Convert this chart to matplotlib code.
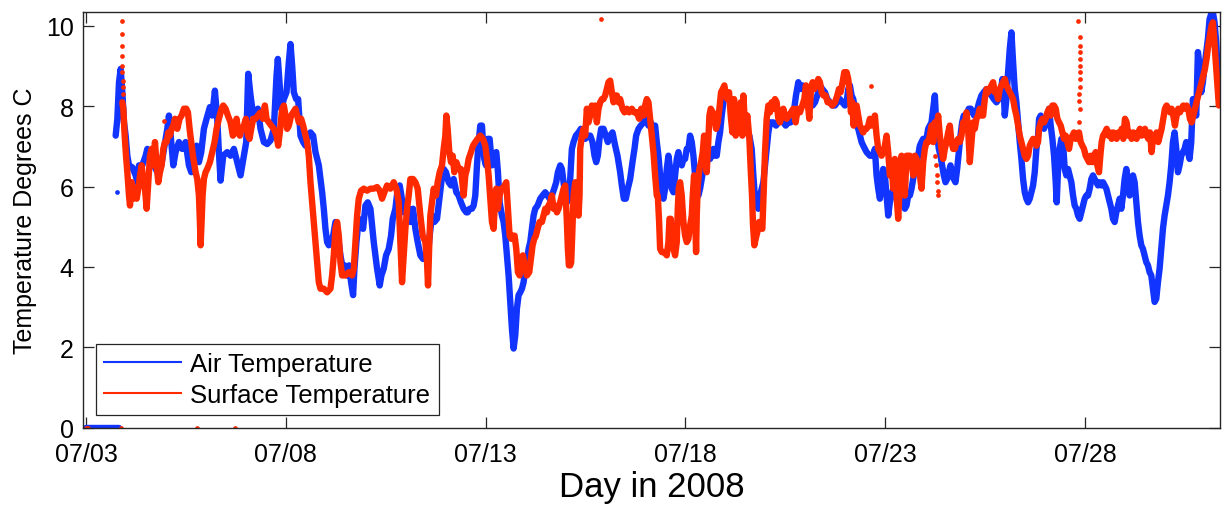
import matplotlib
matplotlib.use("Agg")
import matplotlib.pyplot as plt
import matplotlib.dates as mdates
from matplotlib.lines import Line2D
import pandas as pd

# ---------------- data (hours after 2008-07-03 00:00, temperature degC) -------------
air_readings = [
    (17.8, 7.27), (18.8, 7.69), (19.8, 8.60), (20.8, 8.93), (21.8, 8.35), (22.8, 7.60), (23.8, 7.27),
    (24.8, 6.77), (25.8, 6.53), (27.8, 6.48), (29.8, 6.28), (30.8, 6.11), (31.8, 6.53), (33.8, 6.53),
    (35.8, 6.77), (36.8, 6.94), (38.8, 6.86), (40.8, 6.53), (42.8, 6.36), (45.2, 6.53), (46.8, 6.94),
    (48.8, 7.44), (49.8, 7.77), (51.2, 7.11), (52.4, 6.53), (53.8, 6.86), (55.8, 7.11), (57.8, 6.94),
    (59.8, 7.11), (61.8, 6.53), (63.2, 6.36), (64.8, 6.86), (66.4, 7.02), (67.8, 6.61), (69.2, 6.86),
    (70.8, 7.44), (72.4, 7.69), (74.4, 7.98), (75.8, 7.77), (77.4, 8.39), (78.8, 7.69), (79.8, 6.86),
    (80.8, 6.15), (82.4, 6.77), (84.8, 6.86), (86.8, 6.77), (88.8, 6.94), (90.8, 6.61), (92.8, 6.28),
    (94.8, 6.77), (96.2, 7.11), (97.4, 8.81), (98.8, 8.27), (100.4, 7.77), (101.8, 7.69), (103.2, 7.94),
    (104.8, 7.44), (106.8, 7.11), (108.8, 7.06), (110.8, 7.15), (112.8, 7.44),
    (114.4, 8.76), (115.2, 9.18), (116.2, 8.60), (117.2, 7.94), (118.8, 8.18), (120.4, 8.35), (121.8, 9.10),
    (122.8, 9.55), (123.8, 9.01), (124.8, 8.35), (126.2, 8.18), (127.4, 8.18), (128.8, 7.27), (130.4, 7.11),
    (131.8, 7.02), (133.2, 7.27), (134.8, 7.35), (136.4, 7.27), (137.8, 6.86), (138.8, 6.69), (139.8, 6.53),
    (140.8, 6.19), (141.8, 5.86), (142.8, 5.45), (143.8, 4.95), (144.8, 4.62), (145.8, 4.54), (146.8, 4.62),
    (148.4, 4.78), (149.8, 5.12), (150.8, 5.03), (151.8, 4.62), (152.8, 4.29), (154.2, 3.96), (155.4, 4.04),
    (156.8, 3.79), (158.0, 4.04), (159.2, 3.62), (160.4, 3.30), (161.2, 3.96), (162.4, 4.62), (163.8, 5.20),
    (165.2, 5.12), (166.4, 4.95), (167.8, 5.53), (169.2, 5.61), (170.8, 5.45), (171.8, 5.03), (172.8, 4.62),
    (173.8, 4.29), (174.8, 3.96), (176.4, 3.54), (177.4, 3.79), (178.8, 3.96), (180.2, 4.29), (181.8, 4.45),
    (183.2, 4.78), (184.2, 5.20), (185.8, 5.45), (187.2, 5.95), (188.4, 6.03), (189.4, 5.78), (190.8, 5.36),
    (192.2, 5.45), (193.8, 5.45), (194.8, 5.12), (196.4, 5.45), (197.8, 4.95), (199.2, 4.62), (200.8, 4.29),
    (202.4, 4.20), (203.8, 4.29), (205.2, 4.20), (206.4, 4.78), (207.8, 5.28), (209.2, 5.12), (210.8, 5.20),
    (212.2, 5.70), (213.4, 6.11), (214.8, 6.44), (216.2, 6.36), (217.8, 6.11), (219.2, 6.03), (220.8, 6.19),
    (222.4, 5.86), (223.8, 5.78), (225.2, 5.61), (226.8, 5.45), (228.4, 5.36),
    (229.2, 5.36), (230.4, 5.45), (231.8, 5.45), (232.8, 5.53), (233.8, 5.78), (234.8, 6.53), (235.8, 7.11),
    (236.8, 7.52), (237.8, 7.52), (238.4, 7.11), (239.2, 6.69), (240.2, 6.53), (241.2, 7.19), (242.4, 7.19),
    (243.8, 6.53), (245.2, 6.77), (246.4, 6.86), (247.4, 6.36), (248.4, 5.61), (249.8, 5.28), (250.8, 5.12),
    (251.8, 4.78), (252.8, 4.29), (253.8, 3.79), (254.8, 3.13), (255.8, 2.46), (256.8, 1.97), (257.8, 2.30),
    (258.8, 2.97), (259.8, 3.30), (260.8, 3.37), (261.8, 3.46), (262.8, 3.62), (263.8, 3.96), (264.8, 4.12),
    (265.8, 4.45), (266.8, 4.62), (267.8, 4.95), (268.8, 5.28), (269.8, 5.45), (271.2, 5.53), (272.8, 5.70),
    (274.2, 5.78), (275.8, 5.86), (277.2, 5.78), (278.4, 5.70), (279.8, 5.78), (281.2, 5.95), (282.4, 6.11),
    (283.4, 6.36), (284.8, 6.53), (285.8, 6.44), (286.8, 6.11), (287.8, 5.78), (288.8, 5.61), (289.8, 5.70),
    (290.8, 6.19), (291.8, 6.94), (292.8, 7.11), (294.2, 7.27), (295.8, 7.35), (297.2, 7.44), (298.4, 7.27),
    (299.8, 7.19), (301.2, 7.27), (302.8, 7.27), (304.2, 7.11), (305.4, 6.77), (306.4, 6.61), (307.4, 6.77),
    (308.4, 7.19), (309.4, 7.44), (310.8, 7.44), (312.2, 7.27), (313.4, 7.11), (314.8, 7.27), (316.2, 7.35),
    (317.8, 7.02), (319.2, 6.77), (320.8, 6.36), (321.8, 6.03), (323.0, 5.70), (324.2, 5.70), (325.4, 5.95),
    (326.8, 6.19), (328.2, 6.61), (329.4, 6.94), (330.4, 7.27), (331.8, 7.44), (333.2, 7.52), (334.8, 7.60),
    (336.4, 7.69), (337.8, 7.52), (339.2, 7.60), (340.4, 7.44),
    (341.8, 7.52), (342.8, 7.11), (343.8, 6.77), (344.8, 6.28), (345.8, 5.95), (346.8, 5.70), (347.8, 5.95),
    (348.8, 6.44), (349.8, 6.77), (350.8, 6.44), (351.8, 5.95), (352.8, 5.86), (353.8, 6.28), (354.8, 6.69),
    (355.8, 6.86), (356.8, 6.61), (357.8, 6.53), (358.8, 6.69), (359.8, 6.69), (360.8, 6.94), (361.8, 6.94),
    (362.8, 7.27), (363.8, 7.11), (364.8, 6.77), (365.8, 6.28), (366.8, 5.95), (367.8, 5.78), (368.8, 5.95),
    (369.8, 6.19), (370.8, 6.44), (371.8, 6.53), (372.8, 6.61), (373.8, 6.69), (374.8, 6.69), (375.8, 6.77),
    (376.8, 6.94), (377.8, 6.77), (378.8, 6.77), (379.8, 7.11), (380.8, 7.35), (381.8, 7.77), (382.8, 8.10),
    (383.8, 8.27), (384.8, 8.27), (386.4, 8.18), (387.8, 7.94), (388.8, 7.69), (389.8, 7.60), (390.8, 7.52),
    (392.4, 7.52), (393.8, 7.44), (395.2, 7.35), (396.8, 7.35), (398.4, 7.27), (399.8, 6.94), (400.8, 6.28),
    (401.8, 5.70), (402.8, 5.53), (403.8, 5.45), (404.8, 5.78), (405.8, 5.95), (406.8, 6.11), (407.8, 6.53),
    (408.8, 6.94), (409.8, 7.35), (410.8, 7.60), (411.8, 7.60), (412.8, 7.60), (414.4, 7.52), (415.8, 7.60),
    (417.4, 7.69), (418.8, 7.60), (420.2, 7.52), (421.8, 7.60), (423.2, 7.60), (424.8, 7.77), (426.4, 8.27),
    (427.8, 8.60), (429.2, 8.43), (430.4, 8.52), (431.8, 8.43), (433.2, 8.35), (434.8, 8.18), (436.4, 8.02),
    (437.8, 8.10), (439.2, 8.27), (440.8, 8.52), (442.2, 8.43), (443.8, 8.35), (445.2, 8.18), (446.8, 8.10),
    (448.2, 8.02), (449.8, 8.02), (451.2, 8.10), (452.8, 8.18), (454.2, 8.10), (455.8, 8.02),
    (456.8, 8.10), (457.8, 8.43), (458.8, 8.52), (459.8, 8.27), (460.8, 8.18), (461.8, 7.94), (462.8, 7.52),
    (463.8, 7.44), (464.8, 7.27), (465.8, 7.11), (466.8, 7.02), (467.8, 6.94), (468.8, 6.86), (470.8, 6.77),
    (472.8, 6.77), (473.8, 6.94), (474.8, 6.28), (475.8, 5.95), (476.8, 5.70), (477.8, 6.11), (478.8, 6.44),
    (479.8, 6.28), (480.8, 5.78), (481.8, 5.28), (482.8, 5.61), (483.8, 5.78), (484.8, 5.95), (485.8, 6.11),
    (486.8, 5.95), (487.8, 5.86), (488.8, 6.03), (489.8, 5.78), (490.8, 5.70), (491.8, 5.45), (492.8, 5.53),
    (493.8, 5.78), (494.8, 5.78), (495.8, 5.95), (496.8, 6.19), (497.8, 6.44), (498.8, 6.53), (499.8, 6.77),
    (500.8, 7.02), (501.8, 7.11), (502.8, 7.19), (503.8, 7.02), (504.8, 7.19), (505.8, 7.44), (506.8, 7.52),
    (507.8, 7.60), (508.8, 7.94), (509.8, 8.27), (510.4, 7.77), (511.2, 7.27), (512.2, 6.94), (513.2, 6.77),
    (514.2, 6.53), (515.2, 6.28), (516.2, 6.11), (517.2, 6.19), (518.2, 6.36), (519.2, 6.53), (520.2, 6.28),
    (521.2, 6.19), (522.2, 6.11), (523.2, 6.44), (524.2, 6.86), (525.2, 7.27), (526.2, 7.60), (527.2, 7.77),
    (528.2, 7.60), (529.2, 7.85), (530.2, 7.94), (531.4, 7.94), (532.4, 7.85), (533.4, 7.77), (534.4, 7.85),
    (535.4, 7.94), (536.4, 8.10), (537.8, 8.27), (539.2, 8.35), (540.8, 8.43), (542.2, 8.35), (543.8, 8.27),
    (545.2, 8.18), (546.8, 8.10), (548.2, 8.18), (549.4, 8.35), (550.4, 8.68), (551.2, 8.35), (551.8, 7.77),
    (552.8, 8.18), (553.8, 8.85), (554.8, 9.43), (555.8, 9.84), (556.8, 9.10), (557.8, 8.43), (558.8, 8.10),
    (559.8, 7.60), (560.8, 7.11), (561.8, 6.69), (562.8, 6.19), (563.8, 5.86), (564.8, 5.70), (565.8, 5.61),
    (566.8, 5.70), (567.8, 5.86), (568.8, 6.03), (569.8, 6.36), (570.8, 6.94), (571.8, 7.27),
    (572.4, 7.69), (573.4, 7.77), (574.4, 7.60), (575.4, 7.44), (576.4, 7.60), (577.4, 7.69), (578.4, 7.94),
    (579.4, 7.52), (580.4, 7.19), (581.4, 6.77), (582.4, 6.11), (583.0, 5.61), (583.8, 6.44), (584.8, 6.94),
    (585.8, 7.19), (586.8, 7.11), (587.8, 6.44), (588.8, 6.28), (589.8, 6.44), (590.8, 6.28), (591.8, 6.11),
    (592.8, 5.78), (593.8, 5.53), (594.8, 5.45), (595.8, 5.28), (596.8, 5.20), (597.8, 5.36), (598.8, 5.53),
    (599.8, 5.70), (600.8, 5.78), (601.8, 5.78), (602.8, 5.95), (603.8, 6.19), (604.8, 6.28), (605.8, 6.19),
    (606.8, 6.11), (607.8, 6.03), (608.8, 6.11), (609.8, 6.03), (610.8, 6.11), (611.8, 6.03), (612.8, 5.95),
    (613.8, 5.78), (614.8, 5.61), (615.8, 5.45), (616.8, 5.20), (617.8, 5.12), (618.8, 5.36), (619.8, 5.53),
    (620.8, 5.70), (621.8, 5.45), (622.8, 5.78), (623.8, 6.19), (624.8, 6.44), (625.8, 6.11), (626.8, 5.78),
    (627.8, 6.03), (628.8, 6.28), (629.8, 6.11), (630.8, 5.61), (631.8, 5.12), (632.8, 4.78), (633.8, 4.54),
    (634.8, 4.45), (635.8, 4.29), (636.8, 4.12), (637.8, 4.04), (638.8, 3.87), (639.8, 3.79), (640.8, 3.46),
    (641.8, 3.13), (642.8, 3.21), (643.8, 3.62), (644.8, 3.96), (645.8, 4.45), (646.8, 4.95), (647.8, 5.28),
    (648.8, 5.53), (649.8, 5.78), (650.8, 6.11), (651.8, 6.53), (652.8, 7.11), (653.8, 7.35), (654.8, 6.94),
    (655.8, 6.36), (656.8, 6.53), (657.8, 6.77), (658.8, 6.86), (659.8, 6.94), (660.8, 7.11), (661.8, 6.86),
    (662.8, 6.69), (663.8, 7.11), (664.8, 8.18), (665.8, 7.94), (666.8, 7.77), (667.8, 9.35), (668.8, 9.01),
    (669.8, 8.35), (670.8, 8.60), (671.8, 9.01), (672.8, 9.35), (673.8, 9.68), (674.8, 10.17), (675.8, 10.30),
    (676.8, 10.34), (677.8, 10.09), (678.8, 9.59), (679.8, 8.76), (680.4, 8.18),
]

surface_readings = [
    (21.8, 8.10), (22.4, 7.94), (23.2, 7.27), (24.0, 6.77), (24.8, 6.36), (25.8, 5.78), (26.4, 5.53),
    (27.4, 6.11), (28.4, 5.70), (29.4, 5.95), (30.4, 5.70), (31.4, 5.95), (32.4, 6.28), (33.4, 6.53),
    (34.4, 6.11), (35.4, 5.95), (36.4, 5.45), (37.4, 6.11), (38.4, 6.77), (39.4, 6.94), (40.4, 6.53),
    (41.4, 7.11), (42.4, 6.53), (43.4, 6.11), (44.4, 6.36), (45.4, 6.53), (46.4, 6.94), (47.4, 7.11),
    (48.4, 7.11), (49.4, 7.35), (50.4, 7.27), (51.4, 7.44), (52.4, 7.52), (53.4, 7.69), (54.8, 7.44),
    (56.2, 7.69), (57.4, 7.77), (58.8, 7.94), (60.2, 7.94), (61.2, 7.85), (62.2, 7.44), (63.2, 7.11),
    (64.2, 6.77), (65.8, 6.36), (66.8, 6.19), (67.8, 5.78), (68.4, 5.12), (68.8, 4.54), (69.4, 5.12),
    (70.0, 5.78), (70.8, 6.19), (71.8, 6.36), (72.8, 6.44), (74.4, 6.61), (75.8, 6.86), (77.2, 7.11),
    (78.4, 7.44), (79.8, 7.69), (81.4, 7.94), (82.4, 8.02), (83.8, 7.94), (85.2, 7.77), (86.8, 7.60),
    (88.2, 7.27), (89.4, 7.35), (90.4, 7.69), (91.4, 7.35), (92.4, 7.27), (93.4, 7.44), (94.8, 7.52),
    (96.0, 7.69), (97.2, 7.27), (98.2, 7.19), (99.2, 7.44), (100.4, 7.69), (101.8, 7.69), (103.2, 7.77),
    (104.8, 7.85), (106.2, 7.69), (107.4, 8.02), (108.4, 7.69), (109.8, 7.60), (111.2, 7.52), (112.8, 7.44),
    (114.4, 7.27), (115.4, 7.02), (116.4, 7.35), (117.8, 7.94), (118.8, 8.02), (119.8, 7.77), (120.8, 7.44),
    (121.8, 7.52), (123.2, 7.77), (124.4, 7.85), (125.8, 7.94), (126.8, 7.77), (127.8, 7.60), (129.2, 7.69),
    (130.4, 7.52), (131.8, 7.27), (132.8, 7.11), (133.8, 6.77), (134.8, 6.11), (135.8, 5.61), (136.8, 5.12),
    (137.8, 4.62), (138.8, 4.12), (139.8, 3.62), (140.8, 3.46), (142.8, 3.46), (144.8, 3.37), (146.8, 3.46),
    (147.8, 3.79), (148.8, 4.29), (149.8, 4.95), (150.8, 5.12), (151.8, 4.78), (152.8, 4.12), (153.8, 3.79),
    (155.8, 3.79), (157.8, 3.87), (159.8, 3.79), (160.8, 3.96), (161.8, 4.62), (162.8, 5.28), (163.8, 5.70),
    (165.2, 5.90), (166.8, 5.95), (168.8, 5.90), (170.8, 5.95), (172.8, 5.95), (174.8, 5.99), (176.4, 5.90),
    (177.8, 5.70), (179.2, 5.86), (180.8, 6.03), (182.8, 5.95), (184.8, 6.11), (186.4, 5.95), (187.8, 5.61),
    (188.8, 4.62), (189.8, 3.62), (190.8, 4.29), (191.8, 4.95), (192.8, 5.45), (193.8, 5.78), (194.8, 6.19),
    (196.4, 6.19), (197.8, 6.11), (199.2, 5.95), (200.8, 5.28), (202.2, 4.78), (203.8, 4.62), (204.8, 4.12),
    (205.4, 3.54), (206.2, 4.62), (206.8, 5.28), (207.8, 5.61), (208.8, 5.95), (210.2, 5.78), (211.2, 6.11),
    (212.4, 6.36), (213.8, 6.53), (214.8, 6.94), (215.8, 7.27), (216.4, 7.77), (217.2, 7.44), (218.2, 6.86),
    (219.2, 6.61), (220.2, 6.77), (221.2, 6.36), (222.4, 6.61), (223.8, 6.44), (225.2, 6.44), (226.2, 6.03),
    (226.8, 5.78), (227.8, 6.28), (228.8, 6.44),
    (229.8, 6.69), (231.2, 6.86), (232.4, 7.02), (233.8, 7.11), (235.2, 7.19), (236.8, 7.27), (238.4, 7.19),
    (239.8, 7.02), (240.8, 6.69), (241.8, 6.28), (242.8, 5.70), (243.8, 5.12), (244.8, 4.95), (245.8, 5.78),
    (246.4, 5.95), (247.4, 5.45), (248.4, 5.78), (249.4, 5.95), (250.4, 5.95), (251.4, 6.03), (252.4, 6.11),
    (253.4, 5.45), (254.4, 4.78), (255.4, 4.70), (256.4, 4.78), (257.4, 4.78), (258.4, 4.45), (259.4, 3.87),
    (260.4, 3.79), (261.4, 4.12), (262.4, 4.29), (263.8, 3.96), (264.8, 3.79), (266.2, 3.87), (267.2, 4.20),
    (268.2, 4.54), (269.2, 4.70), (270.2, 4.78), (271.2, 4.95), (272.4, 5.12), (273.8, 5.12), (274.8, 5.28),
    (275.8, 5.45), (276.8, 5.36), (277.8, 5.53), (278.8, 5.61), (279.8, 5.78), (280.8, 5.45), (281.8, 5.53),
    (282.8, 5.36), (283.8, 5.45), (284.8, 5.61), (285.8, 5.78), (286.8, 5.95), (287.8, 6.03), (288.8, 5.12),
    (289.4, 4.45), (290.0, 4.04), (290.8, 4.04), (291.4, 4.12), (292.0, 4.78), (292.8, 5.78), (293.8, 6.11),
    (294.8, 5.61), (295.8, 5.28), (296.4, 5.78), (296.8, 6.94), (297.8, 7.27), (298.8, 7.44), (299.8, 7.27),
    (300.8, 7.94), (301.8, 7.60), (302.8, 7.77), (303.8, 8.02), (304.8, 7.94), (305.8, 8.02), (306.8, 7.60),
    (307.8, 7.94), (308.8, 8.10), (309.8, 8.18), (310.8, 8.18), (311.8, 8.27), (312.8, 8.43), (313.8, 8.60),
    (314.8, 8.64), (315.8, 8.35), (316.8, 8.10), (317.8, 8.27), (318.8, 8.27), (319.8, 8.10), (320.8, 8.18),
    (322.2, 7.94), (323.4, 7.85), (324.8, 7.94), (326.2, 7.85), (327.8, 7.94), (329.2, 7.85), (330.8, 7.85),
    (332.2, 7.69), (333.4, 7.94), (334.8, 7.77), (335.8, 8.02), (336.8, 8.18), (337.8, 8.10), (338.8, 7.69),
    (339.8, 7.27), (340.8, 6.86), (341.8, 6.28), (342.8, 5.78),
    (343.4, 5.78), (344.2, 5.12), (344.8, 4.45), (345.8, 4.37), (347.2, 4.37), (348.8, 4.29), (349.8, 4.62),
    (350.4, 5.20), (351.2, 5.20), (351.8, 4.62), (352.8, 4.45), (353.8, 4.29), (354.8, 4.62), (355.4, 5.45),
    (356.0, 5.95), (356.8, 6.11), (357.8, 5.78), (358.8, 5.12), (359.8, 4.78), (360.8, 4.62), (361.8, 4.70),
    (362.8, 5.03), (363.8, 5.28), (364.4, 5.78), (365.2, 6.28), (365.8, 5.28), (366.4, 4.37), (366.8, 5.28),
    (367.4, 6.03), (368.4, 6.44), (369.4, 6.61), (370.4, 6.86), (371.2, 7.27), (371.8, 6.94), (372.8, 6.36),
    (373.8, 7.19), (374.4, 7.77), (375.2, 7.94), (376.4, 7.85), (377.4, 7.69), (378.4, 7.44), (379.4, 7.60),
    (380.4, 7.94), (381.4, 8.35), (382.4, 8.43), (383.4, 8.52), (384.2, 8.27), (385.2, 8.18), (386.2, 8.35),
    (387.2, 7.77), (388.2, 7.35), (389.2, 8.18), (390.2, 7.27), (391.2, 8.02), (392.2, 7.69), (393.2, 8.10),
    (394.2, 7.27), (394.8, 8.27), (395.8, 7.52), (397.2, 7.77), (398.4, 7.19), (399.2, 6.44), (400.0, 5.78),
    (400.6, 5.03), (401.4, 4.54), (402.2, 4.70), (403.2, 4.87), (404.2, 5.12), (405.2, 5.03), (406.2, 4.95),
    (407.0, 5.86), (407.8, 6.86), (408.8, 7.69), (409.8, 8.02), (410.8, 7.85), (411.8, 8.10), (412.8, 7.94),
    (413.8, 8.18), (414.8, 8.10), (415.8, 7.69), (416.8, 7.60), (417.8, 7.77), (418.8, 7.94), (419.8, 7.77),
    (420.8, 7.69), (422.2, 7.77), (423.4, 7.85), (424.8, 7.94), (426.2, 7.60), (427.4, 7.94), (428.8, 7.85),
    (430.2, 8.02), (431.4, 8.18), (432.4, 8.52), (433.4, 8.10), (434.4, 7.69), (435.4, 8.43), (436.4, 8.60),
    (437.4, 8.43), (438.4, 8.52), (439.8, 8.68), (440.8, 8.60), (441.8, 8.35), (442.8, 8.27), (444.2, 8.27),
    (445.4, 8.10), (446.8, 8.10), (448.2, 8.02), (449.8, 8.10), (451.2, 8.27), (452.2, 8.43), (453.2, 8.35),
    (454.4, 8.60), (455.4, 8.85), (456.4, 8.76),
    (456.8, 8.85), (457.8, 8.68), (458.8, 8.27), (459.4, 7.85), (460.2, 8.10), (461.0, 7.52), (461.8, 7.94),
    (462.8, 8.02), (463.8, 7.77), (464.8, 7.52), (465.8, 7.44), (466.8, 7.35), (467.8, 7.44), (468.8, 7.44),
    (469.8, 7.52), (470.8, 7.69), (471.8, 7.52), (472.8, 7.60), (473.8, 7.77), (474.8, 7.27), (475.8, 6.94),
    (476.8, 6.86), (477.8, 6.77), (478.8, 6.86), (479.8, 7.02), (480.8, 7.27), (481.8, 6.86), (482.8, 6.28),
    (483.8, 6.61), (484.8, 5.95), (485.8, 6.69), (486.8, 5.78), (487.8, 5.20), (488.8, 6.11), (489.8, 6.77),
    (490.8, 6.28), (491.8, 5.78), (492.8, 6.77), (493.8, 6.77), (494.8, 6.77), (495.8, 6.61), (496.8, 6.28),
    (497.8, 6.77), (498.8, 6.69), (499.8, 6.44), (500.8, 6.28), (501.8, 5.95), (502.8, 6.61), (503.8, 6.94),
    (504.8, 7.11), (505.8, 7.11), (506.8, 7.27), (507.8, 7.52), (508.8, 7.11), (509.8, 7.60), (510.8, 7.44),
    (511.8, 7.77), (512.8, 7.27), (513.8, 6.94), (514.8, 6.69), (515.8, 6.94), (516.8, 7.11), (517.8, 7.35),
    (518.8, 7.52), (519.8, 7.11), (520.8, 6.94), (521.8, 6.94), (522.8, 7.11), (523.8, 7.19), (524.8, 7.11),
    (525.8, 7.27), (526.8, 7.60), (527.8, 7.52), (528.8, 7.85), (529.8, 7.44), (530.8, 6.61), (531.8, 7.11),
    (532.8, 7.60), (533.8, 7.44), (534.8, 7.69), (535.8, 7.77), (536.8, 7.94), (537.8, 7.77), (538.8, 7.77),
    (539.8, 8.18), (540.8, 8.43), (541.8, 8.35), (542.8, 8.43), (543.8, 8.52), (544.8, 8.60), (545.8, 8.35),
    (546.8, 8.35), (547.8, 8.18), (548.8, 8.43), (549.8, 8.52), (550.8, 8.60), (551.8, 8.68), (552.8, 8.52),
    (553.8, 8.43), (554.8, 8.35), (555.8, 8.27), (556.8, 8.18), (557.8, 7.94), (558.8, 7.77), (559.8, 7.52),
    (560.8, 7.27), (561.8, 7.11), (562.8, 6.94), (563.8, 6.77), (564.8, 6.69), (565.8, 6.77), (566.8, 7.02),
    (567.8, 7.11), (568.8, 7.19), (569.8, 7.11), (570.8, 7.02), (571.8, 7.11),
    (572.4, 7.44), (573.4, 7.60), (574.4, 7.69), (575.4, 7.60), (576.4, 7.69), (577.4, 7.85), (578.4, 7.94),
    (579.4, 7.77), (580.4, 8.02), (581.4, 8.02), (582.4, 7.94), (583.4, 7.69), (584.4, 7.60), (585.4, 7.52),
    (586.4, 7.35), (587.4, 7.19), (588.4, 7.27), (589.4, 7.11), (590.4, 6.94), (591.4, 7.19), (592.4, 7.27),
    (593.4, 7.35), (594.4, 7.19), (595.4, 7.27), (596.4, 7.35), (597.4, 7.11), (598.4, 7.02), (599.4, 6.94),
    (600.4, 6.77), (601.4, 6.69), (602.4, 6.61), (603.4, 6.77), (604.4, 6.61), (605.4, 6.77), (606.4, 6.86),
    (607.4, 6.53), (608.4, 6.36), (609.2, 6.77), (610.0, 7.11), (610.8, 7.27), (612.0, 7.35), (613.0, 7.44),
    (614.0, 7.27), (615.0, 7.35), (616.0, 7.19), (617.0, 7.35), (618.0, 7.27), (619.0, 7.19), (620.0, 7.35),
    (621.0, 7.27), (622.0, 7.44), (623.0, 7.19), (624.0, 7.69), (625.0, 7.60), (626.0, 7.27), (627.0, 7.35),
    (628.0, 7.19), (629.0, 7.35), (630.0, 7.27), (631.0, 7.19), (632.0, 7.35), (633.0, 7.44), (634.0, 7.27),
    (635.0, 7.35), (636.0, 7.44), (637.0, 7.27), (638.0, 7.19), (639.0, 7.35), (640.0, 6.86), (641.0, 7.27),
    (642.0, 7.19), (643.0, 7.35), (644.0, 7.11), (645.0, 7.27), (646.0, 7.44), (647.0, 7.69), (648.0, 7.94),
    (649.0, 8.02), (650.0, 7.94), (651.0, 7.85), (652.0, 7.94), (653.0, 7.77), (654.0, 7.52), (655.0, 7.77),
    (656.0, 7.94), (657.0, 7.85), (658.0, 7.94), (659.0, 8.02), (660.0, 7.94), (661.0, 8.02), (662.0, 7.94),
    (663.0, 7.69), (664.0, 7.60), (665.0, 7.77), (666.0, 7.94), (667.0, 8.10), (668.0, 8.27), (669.0, 8.43),
    (670.0, 8.60), (671.0, 8.76), (672.0, 8.93), (673.0, 9.18), (674.0, 9.51), (675.0, 9.76), (676.0, 10.01),
    (676.8, 10.09), (677.6, 9.68), (678.4, 9.18), (679.4, 8.60), (680.4, 8.02),
]

# sparse samples during fast changes / isolated readings
surface_sparse = [
    (21.4, 10.13), (21.6, 9.80), (21.8, 9.51), (21.8, 9.26), (21.8, 9.01), (21.8, 8.85), (22.0, 8.64),
    (22.0, 8.47), (22.2, 8.31), (46.8, 7.64), (309.4, 10.17), (471.4, 8.50),
    (509.8, 6.77), (510.4, 6.53), (510.8, 6.28), (511.2, 6.11), (511.6, 5.90), (511.8, 5.78),
    (596.0, 10.13), (597.0, 9.72), (597.0, 9.51), (597.0, 9.35), (597.0, 9.18), (597.0, 9.01),
    (597.0, 8.85), (596.8, 8.68), (597.0, 8.47), (596.6, 8.31), (596.4, 8.14), (597.0, 7.94), (596.4, 7.60),
    (0.0, 0.0), (1.0, 0.0), (20.8, 0.0), (66.5, 0.0), (89.5, 0.0),
]
air_sparse = [(18.8, 5.87)]
air_zero_hours = [0.0, 20.0]
air_zero_temp = [0.0, 0.0]

start = pd.Timestamp("2008-07-03 00:00")
tick_days = ["2008-07-03", "2008-07-08", "2008-07-13", "2008-07-18", "2008-07-23", "2008-07-28"]
y_ticks = [0, 2, 4, 6, 8, 10]

AIR_COLOR = "#1234ff"
SURF_COLOR = "#ff2a00"


def to_time(hours):
    return start + pd.to_timedelta(list(hours), unit="h")


plt.rcParams["font.family"] = ["Liberation Sans", "DejaVu Sans"]

fig = plt.figure(figsize=(12.22, 5.06), dpi=100)
ax = fig.add_axes([0.0682, 0.1528, 0.9302, 0.8209])

lw = 4.6
ah, at = zip(*air_readings)
sh, st = zip(*surface_readings)
ash, ast = zip(*air_sparse)
ssh, sst = zip(*surface_sparse)

ax.plot(to_time(air_zero_hours), air_zero_temp, color=AIR_COLOR, lw=lw, solid_capstyle="round")
ax.plot(to_time(ah), at, color=AIR_COLOR, lw=lw, solid_capstyle="round", solid_joinstyle="round")
ax.plot(to_time(ash), ast, "o", color=AIR_COLOR, ms=3.4, mec="none")
ax.plot(to_time(sh), st, color=SURF_COLOR, lw=lw, solid_capstyle="round", solid_joinstyle="round")
ax.plot(to_time(ssh), sst, "o", color=SURF_COLOR, ms=3.4, mec="none")

ax.set_xlim(start - pd.Timedelta(hours=1.62), start + pd.Timedelta(hours=681.1))
ax.set_ylim(0, 10.34)
ax.set_xticks(pd.to_datetime(tick_days))
ax.xaxis.set_major_formatter(mdates.DateFormatter("%m/%d"))
ax.set_yticks(y_ticks)

for s in ax.spines.values():
    s.set_color("#262626")
    s.set_linewidth(1.0)
ax.tick_params(axis="both", which="major", direction="in", length=8.2, width=0.9,
               color="#262626", labelsize=18, top=True, right=True)
ax.tick_params(axis="x", pad=10)
ax.tick_params(axis="y", pad=7)

ax.set_xlabel("Day in 2008", fontsize=25, labelpad=3)
ax.set_ylabel("Temperature Degrees C", fontsize=18, labelpad=6)

handles = [Line2D([], [], color=AIR_COLOR, lw=1.5), Line2D([], [], color=SURF_COLOR, lw=1.5)]
leg = ax.legend(handles, ["Air Temperature", "Surface Temperature"], loc="lower left",
                bbox_to_anchor=(0.0112, 0.0306), borderaxespad=0, fontsize=18.5,
                fancybox=False, framealpha=1, edgecolor="#262626", handlelength=3.0,
                handletextpad=0.35, borderpad=0.32, labelspacing=0.25)
leg.get_frame().set_linewidth(0.9)

fig.savefig("out.png", dpi=100)
